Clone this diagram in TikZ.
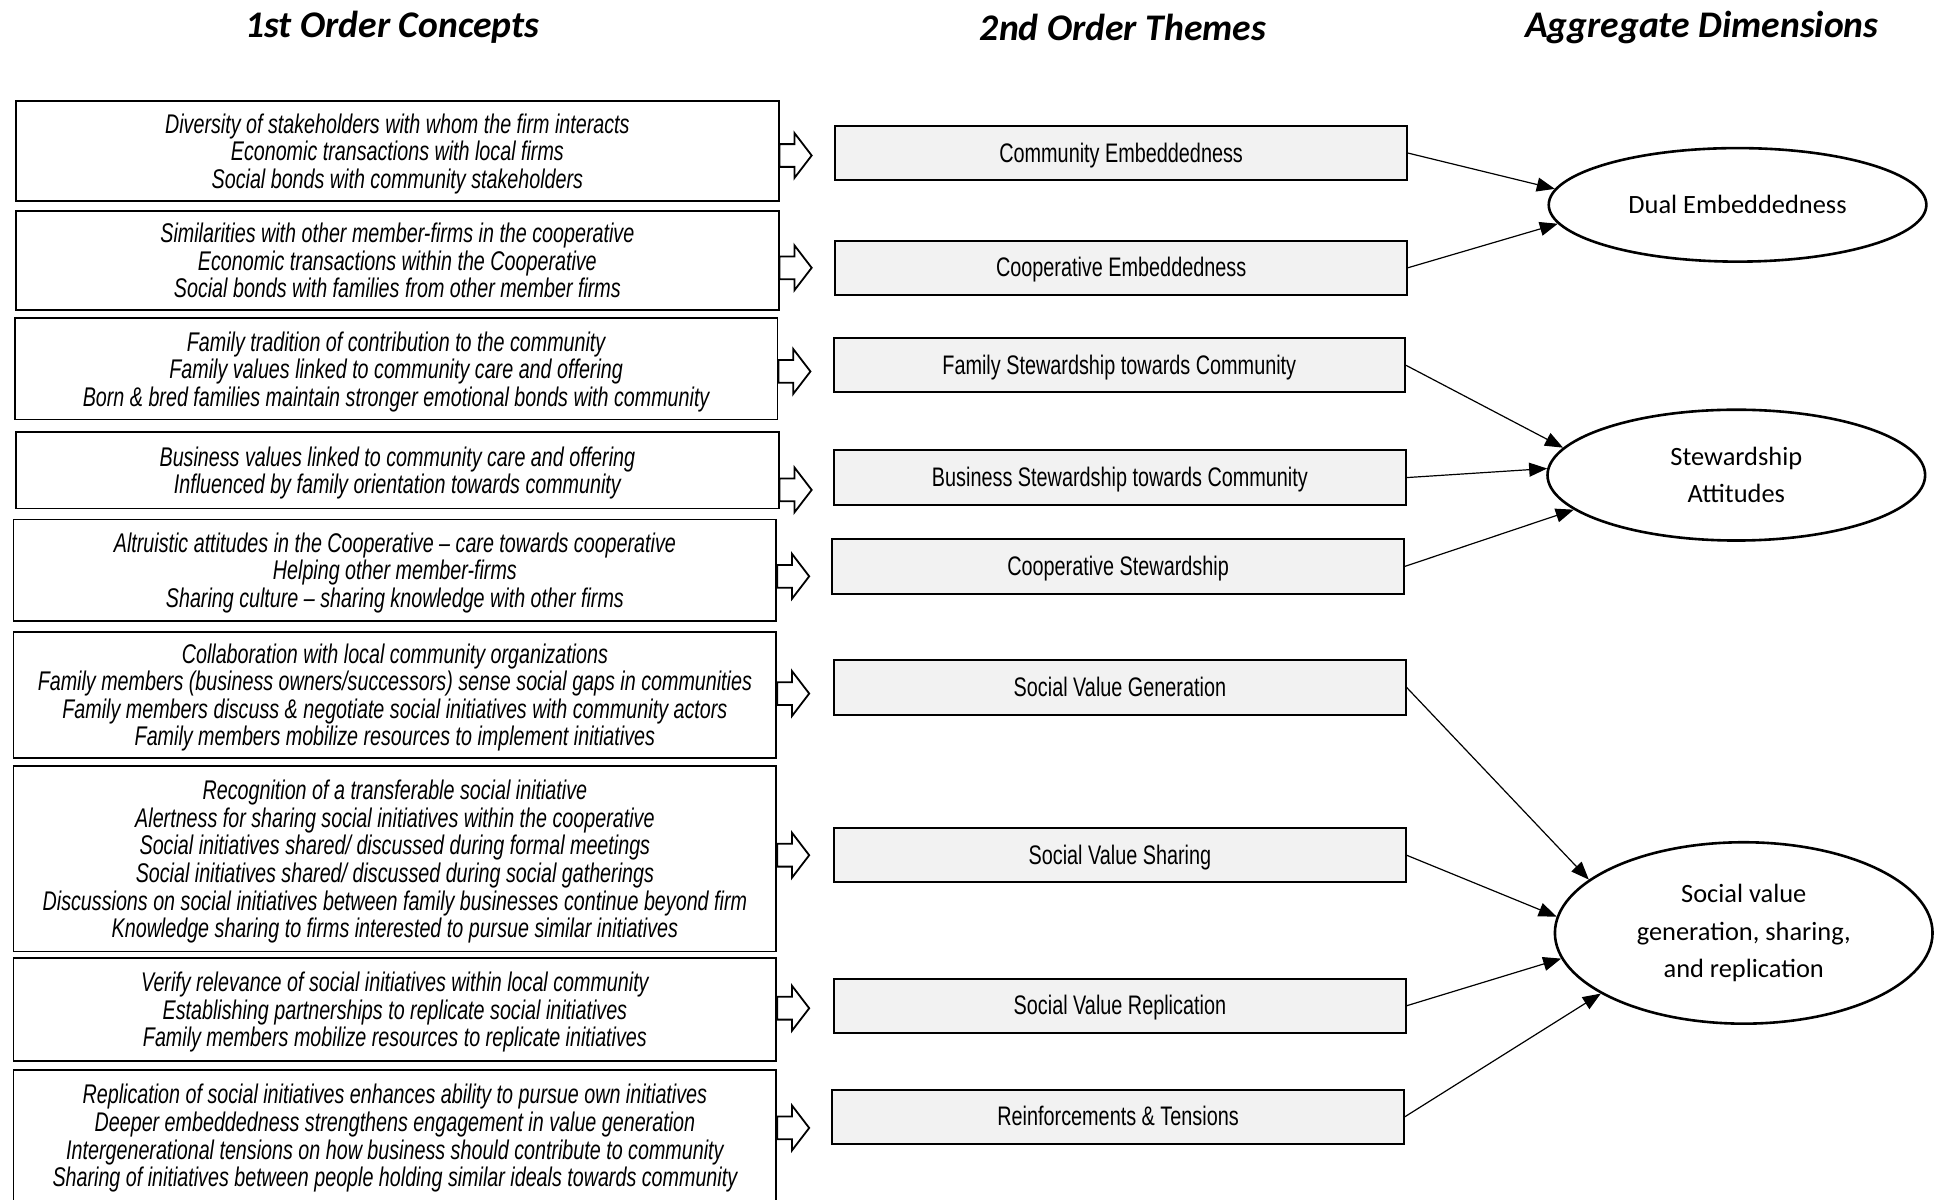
\documentclass[tikz,border=0pt]{standalone}
\usepackage{fontspec}
\setmainfont{Liberation Sans}
\newfontfamily\narrowfont[FakeStretch=0.73]{Liberation Sans}
\newfontfamily\themefont[FakeStretch=0.74]{Liberation Sans}
\newfontfamily\califont{Carlito}
\usetikzlibrary{arrows.meta,shapes.geometric,shapes.arrows}
\newcommand{\px}{0.617pt}
\definecolor{themegray}{RGB}{242,242,242}

\begin{document}
\begin{tikzpicture}[x = \px, y = -\px,
    header/.style = {font = \califont\bfseries\itshape\fontsize{18.8}{22}\selectfont},
    concept/.style = {draw, line width = 0.9pt, minimum width = 618*\px, inner sep = 0pt,
                      align = center, text depth = -1.8pt,
                      font = \narrowfont\itshape\fontsize{13.5}{13.8}\selectfont},
    theme/.style = {draw, line width = 1pt, fill = themegray, minimum width = 463*\px,
                    minimum height = 44*\px, inner sep = 0pt, text height = 10.5pt, text depth = 1.5pt,
                    font = \themefont\fontsize{13.4}{16}\selectfont},
    dim/.style = {ellipse, draw, line width = 1.3pt, minimum width = 306*\px, inner sep = 0pt,
                  align = center, font = \califont\fontsize{13.2}{18.5}\selectfont},
    hollow/.style = {single arrow, draw, line width = 0.9pt, fill = white, anchor = tail,
                     minimum height = 26*\px, inner xsep = 0pt, inner ysep = 8.5*\px,
                     single arrow head extend = 9*\px, single arrow tip angle = 105},
    conn/.style = {-{Triangle[length = 9pt, width = 7pt]}, line width = 0.6pt}]
    \useasboundingbox (0,0) rectangle (1568,972);

    \node [header] (h1) at (318,22) {1st Order Concepts};
    \node [header] (h2) at (910,22) {2nd Order Themes};
    \node [header] (h3) at (1379,22) {Aggregate Dimensions};

    % 1st order concepts
    \node [concept, minimum height = 81*\px] (c1) at (322,122.5) {Diversity of stakeholders with whom the firm interacts\\Economic transactions with local firms\\Social bonds with community stakeholders};
    \node [concept, minimum height = 80*\px] (c2) at (322,211) {Similarities with other member-firms in the cooperative\\Economic transactions within the Cooperative\\Social bonds with families from other member firms};
    \node [concept, minimum height = 82*\px] (c3) at (321,299) {Family tradition of contribution to the community\\Family values linked to community care and offering\\Born \& bred families maintain stronger emotional bonds with community};
    \node [concept, minimum height = 62*\px] (c4) at (322,381) {Business values linked to community care and offering\\Influenced by family orientation towards community};
    \node [concept, minimum height = 82*\px] (c5) at (320,462) {Altruistic attitudes in the Cooperative – care towards cooperative\\Helping other member-firms\\Sharing culture – sharing knowledge with other firms};
    \node [concept, minimum height = 102*\px] (c6) at (320,563) {Collaboration with local community organizations\\Family members (business owners/successors) sense social gaps in communities\\Family members discuss \& negotiate social initiatives with community actors\\Family members mobilize resources to implement initiatives};
    \node [concept, minimum height = 150*\px] (c7) at (320,696) {Recognition of a transferable social initiative\\Alertness for sharing social initiatives within the cooperative\\Social initiatives shared/ discussed during formal meetings\\Social initiatives shared/ discussed during social gatherings\\Discussions on social initiatives between family businesses continue beyond firm\\Knowledge sharing to firms interested to pursue similar initiatives};
    \node [concept, minimum height = 84*\px] (c8) at (320,818) {Verify relevance of social initiatives within local community\\Establishing partnerships to replicate social initiatives\\Family members mobilize resources to replicate initiatives};
    \node [concept, minimum height = 108*\px, text depth = 1pt] (c9) at (320,921) {Replication of social initiatives enhances ability to pursue own initiatives\\Deeper embeddedness strengthens engagement in value generation\\Intergenerational tensions on how business should contribute to community\\Sharing of initiatives between people holding similar ideals towards community};

    % 2nd order themes
    \node [theme] (m1) at (908.5,124) {Community Embeddedness};
    \node [theme] (m2) at (908.5,217) {Cooperative Embeddedness};
    \node [theme] (m3) at (907,296) {Family Stewardship towards Community};
    \node [theme] (m4) at (907.5,387) {Business Stewardship towards Community};
    \node [theme] (m5) at (906,459) {Cooperative Stewardship};
    \node [theme] (m6) at (907.5,557) {Social Value Generation};
    \node [theme] (m7) at (907.5,693) {Social Value Sharing};
    \node [theme] (m8) at (907.5,815) {Social Value Replication};
    \node [theme] (m9) at (906,905) {Reinforcements \& Tensions};

    % aggregate dimensions
    \node [dim, minimum height = 92*\px] (d1) at (1408,166) {Dual Embeddedness};
    \node [dim, minimum height = 106*\px] (d2) at (1407,385) {Stewardship\\Attitudes};
    \node [dim, minimum height = 147*\px] (d3) at (1413,756) {Social value\\generation, sharing,\\and replication};

    % hollow arrows
    \node [hollow] (a1) at (631,126) {};
    \node [hollow] (a2) at (631,217) {};
    \node [hollow] (a3) at (630,301) {};
    \node [hollow] (a4) at (631,397) {};
    \node [hollow] (a5) at (629,467) {};
    \node [hollow] (a6) at (629,562) {};
    \node [hollow] (a7) at (629,693) {};
    \node [hollow] (a8) at (629,817) {};
    \node [hollow] (a9) at (629,914) {};

    \draw [conn] (m1.east) -- (d1.175);
    \draw [conn] (m2.east) -- (d1.186);
    \draw [conn] (m3.east) -- (d2.171);
    \draw [conn] (m4.east) -- (d2.178.5);
    \draw [conn] (m5.east) -- (d2.192);
    \draw [conn] (m6.east) -- (d3.161);
    \draw [conn] (m7.east) -- (d3.175);
    \draw [conn] (m8.east) -- (d3.188);
    \draw [conn] (m9.east) -- (d3.203.5);
\end{tikzpicture}
\end{document}
